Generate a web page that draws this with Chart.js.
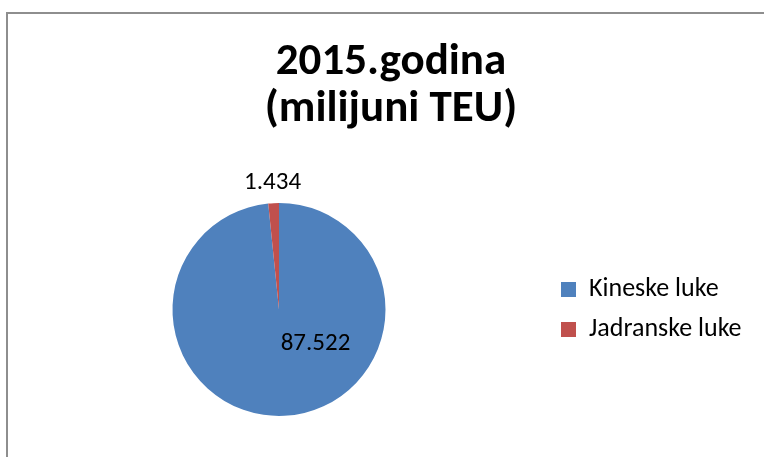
<!DOCTYPE html>
<html>
<head>
<meta charset="utf-8">
<script src="https://cdn.jsdelivr.net/npm/chart.js@4/dist/chart.umd.min.js"></script>
<style>
  html, body { margin: 0; padding: 0; background: #fff; overflow: hidden; width: 764px; height: 457px; }
  #frame { position: absolute; left: 6px; top: 12px; width: 800px; height: 500px;
           border-left: 2px solid #8e8e8e; border-top: 2px solid #8e8e8e; box-sizing: border-box; }
  #wrap { position: absolute; left: 0; top: 0; width: 771px; height: 457px; }
</style>
</head>
<body>
<div id="frame"></div>
<div id="wrap"><canvas id="c" width="771" height="457"></canvas></div>
<script>
const titleLines = ['2015.godina', '(milijuni TEU)'];
const categories = ['Kineske luke', 'Jadranske luke'];
const values = [87.522, 1.434];
const colors = ['#4F81BD', '#C0504D'];

const FONT = 'Carlito, Lato, "Open Sans", sans-serif';

// data label placement per slice: inside (angle/distance ratio) or outside
const labelPlacement = [
  { mode: 'inside', angleDeg: 43.2, dist: 0.47 },
  { mode: 'outside', gap: 20.5 }
];

const dataLabels = {
  id: 'dataLabels',
  afterDatasetsDraw(chart) {
    const ctx = chart.ctx;
    const meta = chart.getDatasetMeta(0);
    ctx.save();
    ctx.font = '25px ' + FONT;
    ctx.fillStyle = '#000';
    ctx.textAlign = 'center';
    ctx.textBaseline = 'middle';
    meta.data.forEach((arc, i) => {
      const p = arc.getProps(['x', 'y', 'startAngle', 'endAngle', 'outerRadius'], true);
      const pl = labelPlacement[i];
      let x, y;
      if (pl.mode === 'outside') {
        const mid = (p.startAngle + p.endAngle) / 2;
        const r = p.outerRadius + pl.gap;
        x = p.x + Math.cos(mid) * r;
        y = p.y + Math.sin(mid) * r;
      } else {
        const a = pl.angleDeg * Math.PI / 180;
        x = p.x + Math.cos(a) * p.outerRadius * pl.dist;
        y = p.y + Math.sin(a) * p.outerRadius * pl.dist;
      }
      ctx.fillText(values[i].toFixed(3), x, y);
    });
    ctx.restore();
  }
};

const legendWidth = {
  id: 'legendWidth',
  beforeInit(chart) {
    const fit = chart.legend.fit;
    chart.legend.fit = function () {
      fit.call(this);
      this.width = 224;
    };
  }
};

new Chart(document.getElementById('c'), {
  type: 'pie',
  data: {
    labels: categories,
    datasets: [{
      data: values,
      backgroundColor: colors,
      borderWidth: 0
    }]
  },
  options: {
    responsive: false,
    animation: false,
    layout: { padding: { left: 11, right: 0, top: 0, bottom: 41 } },
    plugins: {
      title: {
        display: true,
        text: titleLines,
        color: '#000',
        font: { family: FONT, size: 45, weight: 'bold', lineHeight: 47 / 45 },
        padding: { top: 39, bottom: 70 }
      },
      legend: {
        position: 'right',
        align: 'center',
        fullSize: false,
        labels: {
          boxWidth: 15,
          boxHeight: 15,
          padding: 14,
          color: '#000',
          font: { family: FONT, size: 26 }
        }
      },
      tooltip: { enabled: false }
    }
  },
  plugins: [legendWidth, dataLabels]
});
</script>
</body>
</html>
